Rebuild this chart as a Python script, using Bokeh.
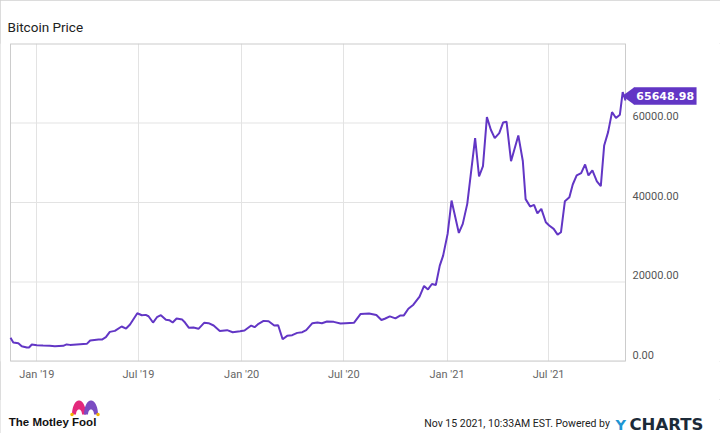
import numpy as np
import pandas as pd
from bokeh.plotting import figure
from bokeh.layouts import column
from bokeh.models import ColumnDataSource, Range1d, FixedTicker, DatetimeTickFormatter, InlineStyleSheet
from bokeh.core.properties import value
from bokeh.embed import file_html
from bokeh.resources import INLINE

# ---------------- data ----------------
dates = [
    "2018-11-15", "2018-11-20", "2018-11-29", "2018-12-05", "2018-12-14", "2018-12-18", "2018-12-23",
    "2019-01-01", "2019-01-12", "2019-01-24", "2019-02-02", "2019-02-17", "2019-02-23", "2019-03-01",
    "2019-03-19", "2019-03-31", "2019-04-06", "2019-04-21", "2019-04-27", "2019-05-04", "2019-05-11",
    "2019-05-20", "2019-06-01", "2019-06-09", "2019-06-16", "2019-06-29", "2019-07-07", "2019-07-14",
    "2019-07-19", "2019-07-27", "2019-08-03", "2019-08-10", "2019-08-19", "2019-08-25", "2019-08-31",
    "2019-09-07", "2019-09-17", "2019-09-22", "2019-09-29", "2019-10-07", "2019-10-16", "2019-10-26",
    "2019-11-03", "2019-11-12", "2019-11-23", "2019-12-06", "2019-12-16", "2019-12-29",
    "2020-01-06", "2020-01-18", "2020-01-24", "2020-01-31", "2020-02-09", "2020-02-18", "2020-02-28",
    "2020-03-06", "2020-03-14", "2020-03-22", "2020-03-31", "2020-04-09", "2020-04-18", "2020-04-25",
    "2020-05-06", "2020-05-15", "2020-05-23", "2020-06-01", "2020-06-13", "2020-06-25", "2020-07-04",
    "2020-07-19", "2020-07-31", "2020-08-15", "2020-08-28", "2020-09-06", "2020-09-12", "2020-09-21",
    "2020-10-01", "2020-10-10", "2020-10-16", "2020-10-24", "2020-11-02", "2020-11-13", "2020-11-21",
    "2020-11-28", "2020-12-05", "2020-12-12", "2020-12-19", "2020-12-25",
    "2021-01-02", "2021-01-09", "2021-01-22", "2021-01-29", "2021-02-06", "2021-02-20", "2021-02-27",
    "2021-03-06", "2021-03-13", "2021-03-20", "2021-03-27", "2021-04-04", "2021-04-11", "2021-04-17",
    "2021-04-25", "2021-05-08", "2021-05-16", "2021-05-21", "2021-05-29", "2021-06-05", "2021-06-11",
    "2021-06-18", "2021-06-26", "2021-07-02", "2021-07-10", "2021-07-17", "2021-07-23", "2021-07-30",
    "2021-08-07", "2021-08-13", "2021-08-20", "2021-08-28", "2021-09-04", "2021-09-10", "2021-09-17",
    "2021-09-25", "2021-10-02", "2021-10-08", "2021-10-15", "2021-10-22", "2021-10-29", "2021-11-05",
    "2021-11-10", "2021-11-15",
]
prices = [
    5950, 4770, 4600, 3850, 3520, 3520, 4270,
    4100, 4020, 3940, 3850, 3940, 4300, 4180,
    4350, 4440, 5280, 5530, 5530, 6110, 7450,
    7700, 8800, 8290, 9300, 12140, 11640, 11730,
    11390, 9800, 11140, 11640, 10480, 10400, 9800,
    10800, 10550, 9800, 8470, 8550, 8220, 9720,
    9640, 9050, 7700, 7880, 7370, 7620,
    7790, 9050, 8630, 9470, 10220, 10140, 9050,
    9130, 5610, 6450, 6620, 7200, 7370, 7880,
    9640, 9800, 9640, 10050, 9970, 9550, 9640,
    9720, 11980, 12100, 11690, 10430, 10760, 11340,
    10840, 11590, 11590, 13280, 14290, 16300, 19000,
    18140, 19500, 19250, 24120, 26640,
    32100, 40500, 32350, 34620, 39660, 56200, 46540,
    49140, 61490, 58310, 56200, 57460, 60150, 60330,
    50400, 56880, 50450, 40850, 38980, 39410, 37260,
    38400, 35030, 34200, 33360, 31930, 32510, 40320,
    41330, 44530, 46800, 47380, 49570, 46800, 48060,
    45290, 44100, 54360, 57710, 62750, 61240, 62090,
    67790, 65648.98,
]
x_tick_dates = ["2019-01-01", "2019-07-01", "2020-01-01", "2020-07-01", "2021-01-01", "2021-07-01"]
y_ticks = [0, 20000, 40000, 60000]
y_tick_labels = ["0.00", "20000.00", "40000.00", "60000.00"]
x_start_date = "2018-11-15"
x_end_date = "2021-11-15"
y_max = 80000
title_text = "Bitcoin Price"
last_value_text = "65648.98"
brand_text = "The Motley Fool"
footer_text = "Nov 15 2021, 10:33AM EST.  Powered by"

# ---------------- styling / layout ----------------
LINE = "#6236c5"
GRID = "#e3e3e3"
FRAME = "#cccccc"
W = 720
MAIN_H = 399
FOOT_H = 34
BOX_L, BOX_R, BOX_T, BOX_B = 10, 625, 43, 361      # visible plot box (page px)
BOX_W, BOX_H = BOX_R - BOX_L, BOX_B - BOX_T


def ms(d):
    return pd.Timestamp(d).timestamp() * 1000.0


x0, x1 = ms(x_start_date), ms(x_end_date)
px_ms = (x1 - x0) / BOX_W          # one pixel along x, in ms
px_val = y_max / BOX_H             # one pixel along y, in price units

src = ColumnDataSource(dict(x=pd.to_datetime(dates), y=prices))

# the canvas frame spans the whole width so the value tag and labels on the right are not clipped
p = figure(width=W, height=MAIN_H, x_axis_type="datetime", y_axis_location=None,
           x_range=Range1d(x0 - BOX_L * px_ms, x1 + (W - BOX_R) * px_ms),
           y_range=Range1d(0, y_max),
           output_backend="svg", toolbar_location=None,
           min_border_left=0, min_border_right=0,
           min_border_top=BOX_T, min_border_bottom=MAIN_H - BOX_B)
p.background_fill_color = "white"
p.border_fill_color = "white"
p.outline_line_color = None
p.ygrid.visible = False

# title
p.title.text = title_text
p.title.align = "left"
p.title.offset = 7
p.title.standoff = 17
p.title.text_font = "Roboto"
p.title.text_font_size = "13.5px"
p.title.text_font_style = "normal"
p.title.text_color = "#222222"

# x axis (Jan / Jul)
xt = FixedTicker(ticks=[ms(d) for d in x_tick_dates])
p.xaxis.ticker = xt
p.xaxis.formatter = DatetimeTickFormatter(days="%b '%y", months="%b '%y", years="%b '%y")
p.xaxis.axis_line_color = None
p.xaxis.major_tick_line_color = None
p.xaxis.minor_tick_line_color = None
p.xaxis.major_tick_out = 0
p.xaxis.major_tick_in = 0
p.xaxis.major_label_standoff = 6
p.xaxis.major_label_text_font = "Roboto"
p.xaxis.major_label_text_font_size = "11px"
p.xaxis.major_label_text_color = "#666666"
p.xgrid.ticker = xt
p.xgrid.grid_line_color = GRID

# horizontal grid lines, limited to the plot box
n = len(y_ticks)
p.segment(x0=[x0] * n, y0=y_ticks, x1=[x1] * n, y1=y_ticks, line_color=GRID, line_width=1)

# plot box
p.segment(x0=[x0, x1], y0=[0, 0], x1=[x0, x1], y1=[y_max, y_max], line_color=FRAME, line_width=1)
p.segment(x0=[x0, x0], y0=[0, y_max], x1=[x1, x1], y1=[0, y_max], line_color=FRAME, line_width=2)

# value labels on the right, just above their grid line
p.text(x=[x1 + 7 * px_ms] * n, y=[t + 7 * px_val for t in y_ticks], text=y_tick_labels,
       text_font=value("Roboto"), text_font_size="11px", text_color="#555555",
       text_align="left", text_baseline="middle")

# series
p.line("x", "y", source=src, line_color=LINE, line_width=2)

# last value tag (pointer + box + text), placed from the last data point
x_last = ms(dates[-1])
y_last = prices[-1]
cy = y_last + 4.6 * px_val
bx = x_last + 39.7 * px_ms
p.patch([x_last - 3.3 * px_ms, x_last + 8.8 * px_ms, x_last + 8.8 * px_ms],
        [cy, cy + 8.7 * px_val, cy - 8.7 * px_val], fill_color=LINE, line_color=None)
p.rect(x=[bx], y=[cy], width=[62.7], height=[17.4], width_units="screen", height_units="screen",
       fill_color=LINE, line_color=None)
p.text(x=[bx], y=[cy], text=[last_value_text], text_font=value("DejaVu Sans"),
       text_font_style="bold", text_font_size="11px", text_color="white",
       text_align="center", text_baseline="middle")

# ---------------- footer (own canvas, page-pixel coordinates) ----------------
f = figure(width=W, height=FOOT_H, x_range=Range1d(0, W), y_range=Range1d(MAIN_H + FOOT_H, MAIN_H),
           output_backend="svg", toolbar_location=None, min_border=0,
           x_axis_location=None, y_axis_location=None)
f.outline_line_color = None
f.grid.visible = False
f.background_fill_color = "white"
f.border_fill_color = "white"

f.text(x=[8.3], y=[421.5], text=[brand_text], text_font=value("Liberation Sans"),
       text_font_style="bold", text_font_size="11.5px", text_color="#111111",
       text_align="left", text_baseline="alphabetic")


def arch(cx, cy, rx, ry, irx, iry, k=24):
    t = np.linspace(np.pi, 0, k)
    t2 = np.linspace(0, np.pi, k)
    xs = np.concatenate([cx + rx * np.cos(t), cx + irx * np.cos(t2)])
    ys = np.concatenate([cy - ry * np.sin(t), cy - iry * np.sin(t2)])
    return xs, ys


for (cx, col) in [(78.5, "#e3297c"), (90.5, "#7b4cc2")]:
    xs, ys = arch(cx, 414, 7, 14, 3, 5)
    f.patch(xs, ys, fill_color=col, line_color=None)
f.scatter([71.5, 97.5], [414, 414], size=3.5, marker="circle", fill_color="#f4b400", line_color=None)

f.text(x=[612], y=[423], text=[footer_text], text_font=value("Roboto"), text_font_size="10.5px",
       text_color="#222222", text_align="right", text_baseline="alphabetic")
f.text(x=[615], y=[424], text=["Y"], text_font=value("DejaVu Sans"), text_font_style="bold",
       text_font_size="14.5px", text_color="#1e96d3", text_align="left", text_baseline="alphabetic")
f.text(x=[629], y=[424], text=["CHARTS"], text_font=value("DejaVu Sans"), text_font_style="bold",
       text_font_size="16.5px", text_color="#1c2a38", text_align="left", text_baseline="alphabetic")

# thin grey border around the whole picture (drawn by CSS, does not change the layout)
border = InlineStyleSheet(css=":host { outline: 1px solid #d0d0d0; outline-offset: -1px; }")
page = column(p, f, spacing=0, stylesheets=[border])
open("out.html", "w").write(file_html(page, INLINE))
